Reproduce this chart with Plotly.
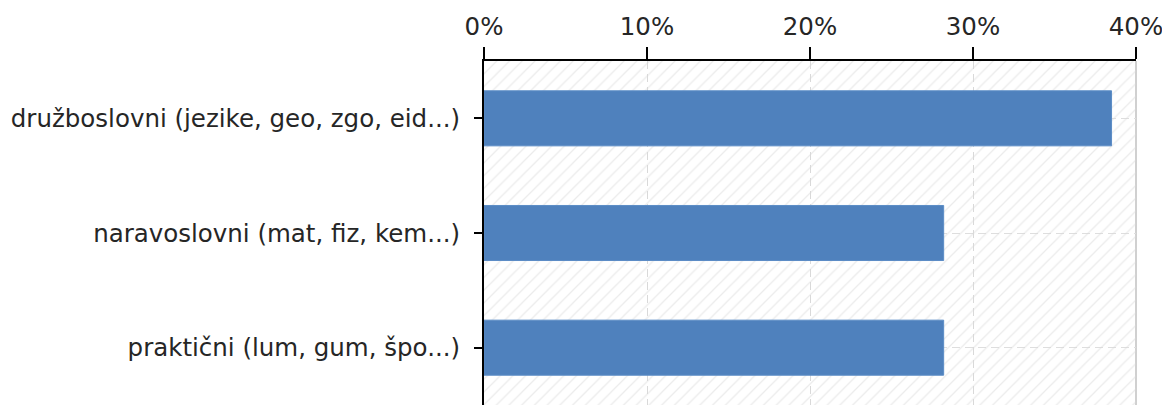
import plotly.graph_objects as go

categories = ["družboslovni (jezike, geo, zgo, eid...)",
              "naravoslovni (mat, fiz, kem...)",
              "praktični (lum, gum, špo...)"]
values = [38.5, 28.2, 28.2]
x_ticks = [0, 10, 20, 30, 40]
x_tick_labels = ["0%", "10%", "20%", "30%", "40%"]

n = len(categories)
y_pos = list(range(n))
x_max = x_ticks[-1]

fig = go.Figure()

# hatched plot background (transparent fill so grid shows through)
fig.add_trace(go.Bar(
    x=[x_max], y=[(n - 1) / 2], base=[0], width=[n], orientation="h",
    marker=dict(color="rgba(0,0,0,0)", line=dict(width=0),
                pattern=dict(shape="/", fgcolor="#d8d8d8", bgcolor="rgba(0,0,0,0)",
                             size=9, solidity=0.14, fillmode="overlay")),
    hoverinfo="skip", showlegend=False))

fig.add_trace(go.Bar(
    x=values, y=y_pos, orientation="h", width=0.48,
    marker=dict(color="#4F81BD", line=dict(color="#5B8CC6", width=1)),
    showlegend=False))

fig.update_layout(
    width=1162, height=407,
    margin=dict(l=484, r=26, t=61, b=2, autoexpand=False),
    paper_bgcolor="white", plot_bgcolor="white",
    barmode="overlay",
    font=dict(family="DejaVu Sans", size=24.5, color="#262626"),
    xaxis=dict(side="top", range=[0, x_max], tickvals=x_ticks, ticktext=x_tick_labels,
               automargin=False, ticklabeloverflow="allow",
               showline=True, linecolor="black", linewidth=2,
               ticks="outside", ticklen=12, tickwidth=2, tickcolor="black",
               ticklabelstandoff=2,
               showgrid=True, gridcolor="#d9d9d9", griddash="8px,5px", gridwidth=1,
               zeroline=False, fixedrange=True),
    yaxis=dict(range=[n - 0.5, -0.5], tickvals=y_pos, ticktext=categories,
               automargin=False, ticklabeloverflow="allow",
               showline=True, linecolor="black", linewidth=2, layer="below traces",
               ticks="outside", ticklen=8, tickwidth=2, tickcolor="black",
               ticklabelstandoff=9,
               showgrid=True, gridcolor="#dedede", griddash="8px,5px", gridwidth=1,
               zeroline=False, fixedrange=True),
    shapes=[dict(type="line", xref="x domain", yref="y domain", x0=1, x1=1, y0=0, y1=1,
                 line=dict(color="#d0d0d0", width=2), layer="below")],
)

fig.write_html("out.html", config={"displayModeBar": False},
               post_script="document.body.style.margin='0';document.body.style.overflow='hidden';")
